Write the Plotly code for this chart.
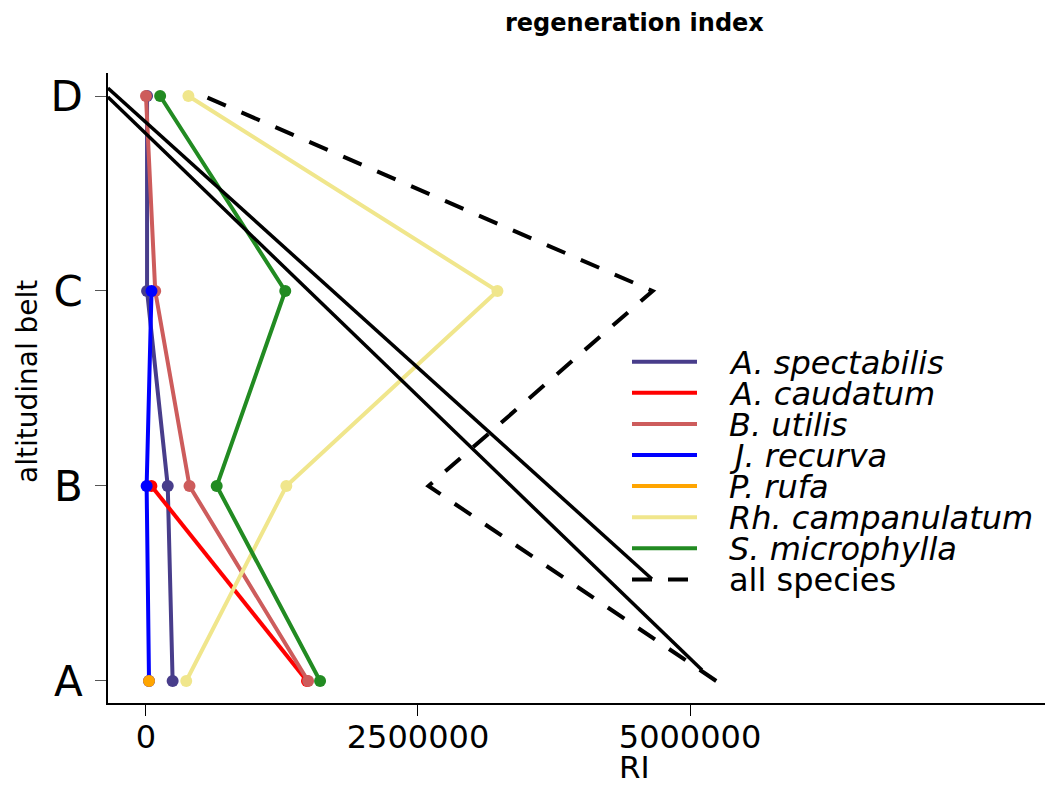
import numpy as np
import plotly.graph_objects as go

# ---------------- data ----------------
belts = ["A", "B", "C", "D"]
species = ["A. spectabilis", "A. caudatum", "B. utilis", "J. recurva",
           "P. rufa", "Rh. campanulatum", "S. microphylla"]
colors = ["#483D8B", "#FF0000", "#CD5C5C", "#0000FF", "#FFA500", "#F0E68C", "#228B22"]

# RI per altitudinal belt (A, B, C, D)
a_spectabilis = [245000, 200000, 10000, 10000]
a_caudatum = [1480000, 50000, None, None]
b_utilis = [1490000, 400000, 85000, 0]
j_recurva = [28000, 6000, 51000, None]
p_rufa = [28000, None, None, None]
rh_campanulatum = [370000, 1290000, 3230000, 390000]
s_microphylla = [1600000, 650000, 1280000, 130000]
series = [a_spectabilis, a_caudatum, b_utilis, j_recurva, p_rufa, rh_campanulatum, s_microphylla]

# "all species" total per belt
all_species = np.nansum(np.array([[np.nan if v is None else v for v in s] for s in series], dtype=float), axis=0)

# the two solid black guide lines seen in the figure (RI, belt position)
guide_upper_x = [-350000, 4650000]
guide_upper_y = [3.041, 0.523]
guide_lower_x = [-350000, 5110000]
guide_lower_y = [2.995, 0.056]

x_ticks = [0, 2500000, 5000000]
x_tick_labels = ["0", "2500000", "5000000"]

FONT = "DejaVu Sans"
ypos = list(range(len(belts)))

fig = go.Figure()

for name, vals, col in zip(species, series, colors):
    fig.add_trace(go.Scatter(
        x=vals, y=ypos, mode="lines+markers", name=name,
        line=dict(color=col, width=4), marker=dict(color=col, size=12),
        connectgaps=False, showlegend=False))

for gx, gy in [(guide_upper_x, guide_upper_y), (guide_lower_x, guide_lower_y)]:
    fig.add_trace(go.Scatter(x=gx, y=gy, mode="lines", line=dict(color="black", width=3.5),
                             showlegend=False, hoverinfo="skip"))

fig.add_trace(go.Scatter(x=all_species, y=ypos, mode="lines", name="all species",
                         line=dict(color="black", width=4, dash="20px,17px"),
                         showlegend=False))

# ---- geometry: page has an 8px body margin ----
OFF = 8
W, H = 1053 - OFF, 787 - OFF
PL, PT, PB = 108, 73, 703          # plot area edges in page pixels
L, T = PL - OFF, PT - OFF
B = H - (PB - OFF)
pw, ph = W - L, PB - PT

def px_x(px):
    return (px - PL) / pw

def px_y(py):
    return (PB - py) / ph

# manual legend
legend_names = species + ["all species"]
legend_cols = colors + ["black"]
row0, step = 361.7, 31.1
for i, (nm, col) in enumerate(zip(legend_names, legend_cols)):
    yy = px_y(row0 + i * step)
    is_all = nm == "all species"
    fig.add_shape(type="line", xref="paper", yref="paper",
                  x0=px_x(632), x1=px_x(697), y0=yy, y1=yy,
                  line=dict(color=col, width=4, dash="20px,16px" if is_all else "solid"))
    fig.add_annotation(xref="paper", yref="paper", x=px_x(727), y=px_y(row0 + i * step + 1),
                       xanchor="left", yanchor="middle", showarrow=False,
                       text=nm if is_all else "<i>" + nm + "</i>",
                       font=dict(family=FONT, size=32, color="black"))

# axis titles and main title
fig.add_annotation(xref="paper", yref="paper", x=px_x(634), y=px_y(767),
                   xanchor="center", yanchor="middle", showarrow=False,
                   text="RI", font=dict(family=FONT, size=31, color="black"))
fig.add_annotation(xref="paper", yref="paper", x=px_x(27), y=px_y(382),
                   xanchor="center", yanchor="middle", showarrow=False, textangle=-90,
                   text="altitudinal belt", font=dict(family=FONT, size=28, color="black"))
fig.add_annotation(xref="paper", yref="paper", x=px_x(634), y=px_y(23),
                   xanchor="center", yanchor="middle", showarrow=False,
                   text="<b>regeneration index</b>", font=dict(family=FONT, size=24, color="black"))

fig.update_layout(
    width=W, height=H,
    margin=dict(l=L, r=0, t=T, b=B),
    plot_bgcolor="white", paper_bgcolor="white",
    showlegend=False,
    font=dict(family=FONT, color="black"),
)
fig.update_xaxes(range=[-349000, 8336000], showgrid=False, zeroline=False,
                 showline=True, linecolor="black", linewidth=1.5,
                 ticks="outside", ticklen=11, tickwidth=1, tickcolor="black",
                 tickvals=x_ticks, ticktext=x_tick_labels, ticklabelstandoff=-6,
                 tickfont=dict(family=FONT, size=32, color="black"))
fig.update_yaxes(range=[-0.113, 3.118], showgrid=False, zeroline=False,
                 showline=True, linecolor="black", linewidth=1.5,
                 ticks="outside", ticklen=11, tickwidth=1, tickcolor="#555555",
                 tickvals=ypos, ticktext=belts, ticklabelstandoff=4,
                 tickfont=dict(family=FONT, size=42, color="black"))

fig.write_html("out.html")
